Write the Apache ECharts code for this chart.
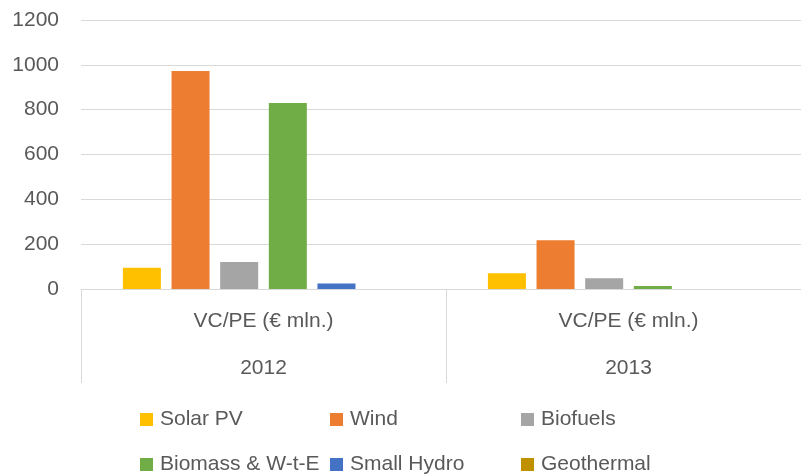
<!DOCTYPE html>
<html lang="en">
	<head>
		<meta charset="UTF-8" />
		<title>VC/PE</title>
		<style>
			html, body { margin: 0; padding: 0; background: #fff; overflow: hidden; }
			/* plot area runs a little past the right edge of the window, like the original */
			#chart { width: 811px; height: 476px; }
		</style>
	</head>
	<body>
		<div id="chart"></div>
		<script src="https://cdn.jsdelivr.net/npm/echarts@6/dist/echarts.min.js"></script>
		<script>
			// data
			const years = ["2012", "2013"];
			const groupLabel = "VC/PE (€ mln.)";
			const seriesNames = ["Solar PV", "Wind", "Biofuels", "Biomass & W-t-E", "Small Hydro", "Geothermal"];
			const solarPV = [95, 70];
			const wind = [972, 218];
			const biofuels = [120, 48];
			const biomass = [830, 13];
			const smallHydro = [25, 0];
			const geothermal = [0, 0];
			const yTicks = [0, 200, 400, 600, 800, 1000, 1200];

			const values = [solarPV, wind, biofuels, biomass, smallHydro, geothermal];
			const colors = ["#FFC000", "#ED7D31", "#A5A5A5", "#70AD47", "#4472C4", "#BF9000"];
			const font = "'Liberation Sans', Arial, sans-serif";
			const textColor = "#595959";

			// legend item spots (two rows of three)
			const legendPos = [
				[140, 409], [330, 409], [521, 409],
				[140, 454], [330, 454], [521, 454],
			];

			let chart = echarts.init(document.getElementById("chart"));
			let option = {
				animation: false,
				grid: { left: 81, right: 0, top: 20, bottom: 187 },
				legend: seriesNames.map(function (name, i) {
					return {
						left: legendPos[i][0],
						top: legendPos[i][1],
						padding: 0,
						data: [name],
						icon: "rect",
						itemWidth: 13,
						itemHeight: 13,
						textStyle: { fontFamily: font, fontSize: 21, color: textColor, padding: [0, 0, 0, 2] },
					};
				}),
				xAxis: {
					type: "category",
					data: years,
					axisLine: { lineStyle: { color: "#D9D9D9", width: 1 } },
					axisTick: { show: true, length: 94, lineStyle: { color: "#D9D9D9" } },
					axisLabel: {
						margin: 9,
						formatter: function (v) {
							return "{a|" + groupLabel + "}\n{b|" + v + "}";
						},
						rich: {
							a: { fontFamily: font, fontSize: 21, color: textColor, lineHeight: 47 },
							b: { fontFamily: font, fontSize: 21, color: textColor, lineHeight: 47 },
						},
					},
				},
				yAxis: {
					type: "value",
					min: yTicks[0],
					max: yTicks[yTicks.length - 1],
					interval: 200,
					axisLine: { show: false },
					axisTick: { show: false },
					splitLine: { lineStyle: { color: "#D9D9D9", width: 1 } },
					axisLabel: {
						fontFamily: font,
						fontSize: 21,
						color: textColor,
						margin: 22,
						formatter: function (v) {
							return String(v);
						},
					},
				},
				series: seriesNames.map(function (name, i) {
					return {
						name: name,
						type: "bar",
						barWidth: 38,
						barGap: "28%",
						itemStyle: { color: colors[i] },
						data: values[i],
					};
				}),
			};
			chart.setOption(option);
		</script>
	</body>
</html>
